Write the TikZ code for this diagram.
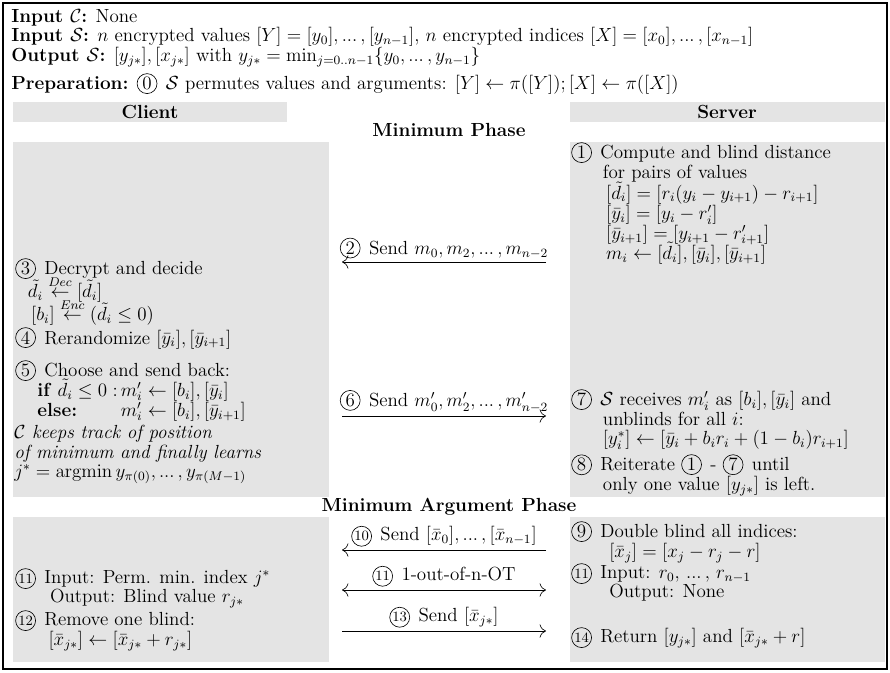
\documentclass[tikz,border=0pt]{standalone}
\usepackage{amsmath,amssymb}
\usetikzlibrary{arrows.meta,positioning}
\definecolor{PanelGray}{HTML}{E4E4E4}
\newcommand{\bodyfont}{\fontsize{12}{12.3}\selectfont\lineskiplimit=-20pt\relax}
\newcommand{\tdots}{\mathinner{{.}{.}{.}}}
\newcommand{\stepno}[1]{\tikz[baseline=(s.base)]\node[circle,draw,inner sep=0pt,minimum size=12.6pt](s){\ifnum#1>9 \fontsize{9}{9}\selectfont\fi#1};\kern1.5pt\relax}

\begin{document}
\begin{tikzpicture}[x=0.632pt,y=-0.632pt,
    panel/.style={fill=PanelGray},
    txt/.style={anchor=north west,inner sep=0pt,align=left,font=\bodyfont},
    head/.style={font=\bodyfont\bfseries,inner sep=0pt},
    msg/.style={-{To[length=4pt]},thin},
    lbl/.style={above=2pt,inner sep=0pt,font=\bodyfont}]
  \useasboundingbox (0,0) rectangle (890,672);
  \draw[line width=1.5pt] (3,3) rectangle (887,669);
  % panels of the two parties
  \fill[panel] (13,102) rectangle (287,122);
  \fill[panel] (570,102) rectangle (885,122);
  \fill[panel] (13,142) rectangle (329,497);
  \fill[panel] (570,142) rectangle (885,497);
  \fill[panel] (13,517) rectangle (329,662);
  \fill[panel] (570,517) rectangle (885,662);
  \node[head] (client) at (150,112) {Client};
  \node[head] (server) at (727,112) {Server};
  \node[head] (minph) at (449,130) {Minimum Phase};
  \node[head] (argph) at (449,507) {Minimum Argument Phase};
  % inputs and outputs
  \node[txt] (io) at (11,9) {\textbf{Input $\mathcal{C}$:} None\\
    \textbf{Input $\mathcal{S}$:} $n$ encrypted values $[Y]=[y_0],\tdots,[y_{n-1}]$, $n$ encrypted indices $[X]=[x_0],\tdots,[x_{n-1}]$\\
    \textbf{Output $\mathcal{S}$:} $[y_{j*}],[x_{j*}]$ with $y_{j*}=\min_{j=0..n-1}\{y_0,\tdots,y_{n-1}\}$};
  \node[txt] (prep) at (11,73) {\textbf{Preparation:} \stepno{0} $\mathcal{S}$ permutes values and arguments: $[Y]\leftarrow\pi([Y]);[X]\leftarrow\pi([X])$};
  % client side
  \node[txt] (dec) at (15,258) {\stepno{3} Decrypt and decide\\[2pt]
    \hspace*{8pt}$\tilde{d}_i\stackrel{Dec}{\leftarrow}[\tilde{d}_i]$\\[2.2pt]
    \hspace*{10pt}$[b_i]\stackrel{Enc}{\leftarrow}(\tilde{d}_i\leq 0)$};
  \node[txt] (rer) at (15,327) {\stepno{4} Rerandomize $[\bar{y}_i],[\bar{y}_{i+1}]$};
  \node[txt] (choose) at (15,360) {\stepno{5} Choose and send back:\\
    \hspace*{14pt}{\lineskiplimit=0pt\begin{tabular}[t]{@{}l@{\,}l}
      \textbf{if} $\tilde{d}_i\leq 0:$ & $m'_i\leftarrow[b_i],[\bar{y}_i]$\\
      \textbf{else:} & $m'_i\leftarrow[b_i],[\bar{y}_{i+1}]$
    \end{tabular}}};
  \node[txt,font=\bodyfont\itshape] (track) at (14,425) {$\mathcal{C}$ keeps track of position\\
    of minimum and finally learns\\
    $j^*=\operatorname{argmin}y_{\pi(0)},\tdots,y_{\pi(M-1)}$};
  \node[txt] (perm) at (15,568) {\stepno{11} Input: Perm. min. index $j^*$\\
    \hspace*{22pt}Output: Blind value $r_{j*}$};
  \node[txt] (rem) at (15,610) {\stepno{12} Remove one blind:\\[0.5pt]
    \hspace*{21pt}$[\bar{x}_{j*}]\leftarrow[\bar{x}_{j*}+r_{j*}]$};
  % server side
  \node[txt] (blind) at (571,142) {\stepno{1} Compute and blind distance\\
    \hspace*{20pt}for pairs of values\\[0.8pt]
    \hspace*{22pt}$[\tilde{d}_i]=[r_i(y_i-y_{i+1})-r_{i+1}]$\\[0.5pt]
    \hspace*{22pt}$[\bar{y}_i]=[y_i-r'_i]$\\[0.3pt]
    \hspace*{22pt}$[\bar{y}_{i+1}]=[y_{i+1}-r'_{i+1}]$\\[0.3pt]
    \hspace*{22pt}$m_i\leftarrow[\tilde{d}_i],[\bar{y}_i],[\bar{y}_{i+1}]$};
  \node[txt] (recv) at (571,389) {\stepno{7} $\mathcal{S}$ receives $m'_i$ as $[b_i],[\bar{y}_i]$ and\\
    \hspace*{20pt}unblinds for all $i$:\\
    \hspace*{20pt}$[y^*_i]\leftarrow[\bar{y}_i+b_ir_i+(1-b_i)r_{i+1}]$};
  \node[txt] (iter) at (571,454) {\stepno{8} Reiterate \stepno{1} - \stepno{7} until\\
    \hspace*{20pt}only one value $[y_{j*}]$ is left.};
  \node[txt] (dbl) at (571,521) {\stepno{9} Double blind all indices:\\
    \hspace*{24pt}$[\bar{x}_j]=[x_j-r_j-r]$};
  \node[txt] (otin) at (571,563) {\stepno{11} Input: $r_0,\,\tdots,\,r_{n-1}$\\
    \hspace*{24pt}Output: None};
  \node[txt] (ret) at (571,627) {\stepno{14} Return $[y_{j*}]$ and $[\bar{x}_{j*}+r]$};
  % messages
  \coordinate (m2c) at (342,262); \coordinate (m2s) at (546,262);
  \coordinate (m6c) at (342,416); \coordinate (m6s) at (546,416);
  \coordinate (m10c) at (342,550); \coordinate (m10s) at (546,550);
  \coordinate (m11c) at (342,590); \coordinate (m11s) at (546,590);
  \coordinate (m13c) at (342,631); \coordinate (m13s) at (546,631);
  \draw[msg] (m2s) -- node[lbl] {\stepno{2} Send $m_0,m_2,\tdots,m_{n-2}$} (m2c);
  \draw[msg] (m6c) -- node[lbl] {\stepno{6} Send $m'_0,m'_2,\tdots,m'_{n-2}$} (m6s);
  \draw[msg] (m10s) -- node[lbl] {\stepno{10} Send $[\bar{x}_0],\tdots,[\bar{x}_{n-1}]$} (m10c);
  \draw[msg,{To[length=4pt]}-{To[length=4pt]}] (m11c) -- node[lbl] {\stepno{11} 1-out-of-n-OT} (m11s);
  \draw[msg] (m13c) -- node[lbl] {\stepno{13} Send $[\bar{x}_{j*}]$} (m13s);
\end{tikzpicture}
\end{document}
